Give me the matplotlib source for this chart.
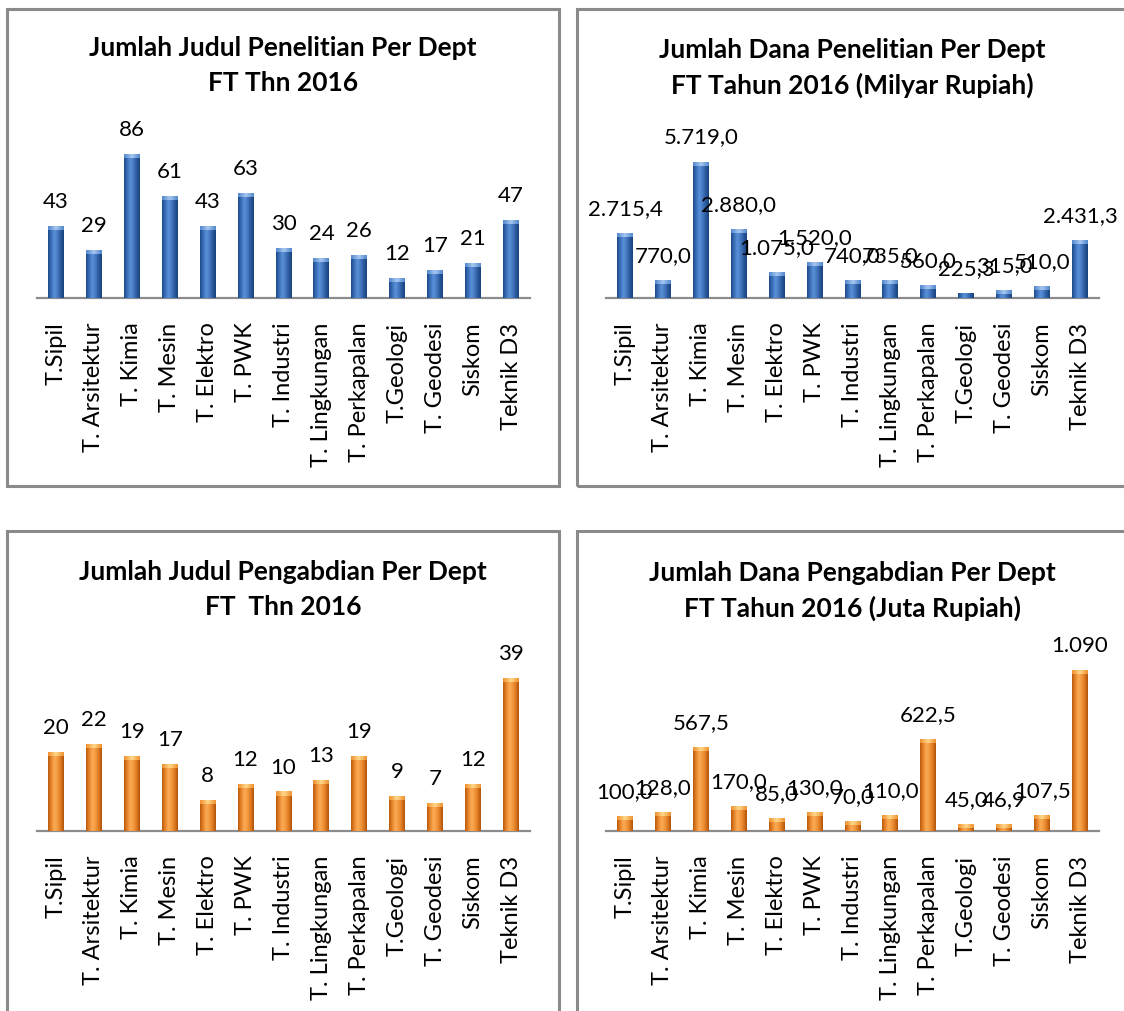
import numpy as np
import matplotlib
matplotlib.use("Agg")
import matplotlib.pyplot as plt
from matplotlib.colors import LinearSegmentedColormap
from matplotlib.patches import Rectangle

# data per departemen FT 2016
departemen = ["T.Sipil", "T. Arsitektur", "T. Kimia", "T. Mesin", "T. Elektro", "T. PWK",
              "T. Industri", "T. Lingkungan", "T. Perkapalan", "T.Geologi", "T. Geodesi",
              "Siskom", "Teknik D3"]
judul_penelitian = [43, 29, 86, 61, 43, 63, 30, 24, 26, 12, 17, 21, 47]
dana_penelitian = [2715.4, 770.0, 5719.0, 2880.0, 1075.0, 1520.0, 740.0, 735.0, 560.0,
                   225.3, 315.0, 510.0, 2431.3]
judul_pengabdian = [20, 22, 19, 17, 8, 12, 10, 13, 19, 9, 7, 12, 39]
dana_pengabdian = [100.0, 128.0, 567.5, 170.0, 85.0, 130.0, 70.0, 110.0, 622.5,
                   45.0, 46.9, 107.5, 1090.0]
desimal_pengabdian = [1] * 12 + [0]

plt.rcParams['font.family'] = ['Lato', 'DejaVu Sans']

W, H = 1124, 1012
fig = plt.figure(figsize=(W / 100, H / 100), dpi=100)
fig.patch.set_facecolor('white')

blue = LinearSegmentedColormap.from_list('biru', ['#1d4886', '#3a6fb8', '#5c92d8', '#4679c2', '#2b5a9f', '#1a427b'])
orange = LinearSegmentedColormap.from_list('oranye', ['#b85a0c', '#e8842a', '#fbab57', '#f39a40', '#de7a22', '#b0540a'])
blue_cap = LinearSegmentedColormap.from_list('biru_cap', ['#4f86cc', '#a9c8f0', '#4f86cc'])
orange_cap = LinearSegmentedColormap.from_list('oranye_cap', ['#f0902e', '#ffd88a', '#f0902e'])

LABEL_SIZE = 16
TICK_SIZE = 17
TITLE_SIZE = 19


def format_id(v, dec):
    s = f"{v:,.{dec}f}"
    return s.replace(",", "_").replace(".", ",").replace("_", ".")


def px_axes(x0, y_top, x1, y_bot):
    return fig.add_axes([x0 / W, 1 - y_bot / H, (x1 - x0) / W, (y_bot - y_top) / H])


def draw_box(x0, y0, x1, y1):
    fig.add_artist(Rectangle((x0 / W, 1 - y1 / H), (x1 - x0) / W, (y1 - y0) / H,
                             transform=fig.transFigure, fill=False, ec='#8a8a8a', lw=2.2))


def draw_panel(rect, values, labels, ymax, cmap, cap_cmap, base, title, title_xy):
    ax = px_axes(*rect)
    x = np.arange(len(values))
    bars = ax.bar(x, values, width=0.42, color=base, zorder=2)
    grad = np.linspace(0, 1, 64)[np.newaxis, :]
    cap_h = ymax / (rect[3] - rect[1]) * 4
    for p, lab in zip(bars, labels):
        x0, w, h = p.get_x(), p.get_width(), p.get_height()
        im = ax.imshow(grad, extent=(x0, x0 + w, 0, h), aspect='auto', cmap=cmap,
                       zorder=3, interpolation='bicubic')
        im.set_clip_path(p)
        if h > cap_h * 1.5:
            ax.imshow(grad, extent=(x0, x0 + w, h - cap_h, h), aspect='auto', cmap=cap_cmap,
                      zorder=4, interpolation='bicubic')
        ax.annotate(lab, (x0 + w / 2, h), xytext=(0, 18), textcoords='offset points',
                    ha='center', va='center', fontsize=LABEL_SIZE, color='black', zorder=5)
    ax.set_xlim(-0.5, len(values) - 0.5)
    ax.set_ylim(0, ymax)
    ax.set_xticks(x)
    ax.set_xticklabels(departemen, rotation=90, fontsize=TICK_SIZE)
    ax.tick_params(axis='x', length=0, pad=17)
    ax.set_yticks([])
    for s in ['top', 'left', 'right']:
        ax.spines[s].set_visible(False)
    ax.spines['bottom'].set_color('#8c8c8c')
    ax.spines['bottom'].set_linewidth(1.6)
    ax.set_facecolor('none')
    cx, cy = title_xy
    for i, line in enumerate(title):
        fig.text(cx / W, 1 - (cy + i * 35) / H, line, ha='center', va='center',
                 fontsize=TITLE_SIZE, fontweight='bold', color='black')
    return ax


draw_box(7, 10, 559, 487)
draw_box(577, 10, 1135, 487)
draw_box(7, 532, 559, 1030)
draw_box(577, 532, 1135, 1030)

draw_panel((37, 132, 530, 299), judul_penelitian,
           [format_id(v, 0) for v in judul_penelitian], 100, blue, blue_cap, '#3566a8',
           ["Jumlah Judul Penelitian Per Dept", "FT Thn 2016"], (283, 48))
draw_panel((606, 132, 1099, 299), dana_penelitian,
           [format_id(v, 1) for v in dana_penelitian], 7000, blue, blue_cap, '#3566a8',
           ["Jumlah Dana Penelitian Per Dept", "FT Tahun 2016 (Milyar Rupiah)"], (852, 50))
draw_panel((37, 655, 530, 832), judul_pengabdian,
           [format_id(v, 0) for v in judul_pengabdian], 45, orange, orange_cap, '#e8842a',
           ["Jumlah Judul Pengabdian Per Dept", "FT  Thn 2016"], (283, 572))
draw_panel((606, 655, 1099, 832), dana_pengabdian,
           [format_id(v, d) for v, d in zip(dana_pengabdian, desimal_pengabdian)], 1200,
           orange, orange_cap, '#e8842a',
           ["Jumlah Dana Pengabdian Per Dept", "FT Tahun 2016 (Juta Rupiah)"], (852, 573))

fig.savefig("out.png", dpi=100)
